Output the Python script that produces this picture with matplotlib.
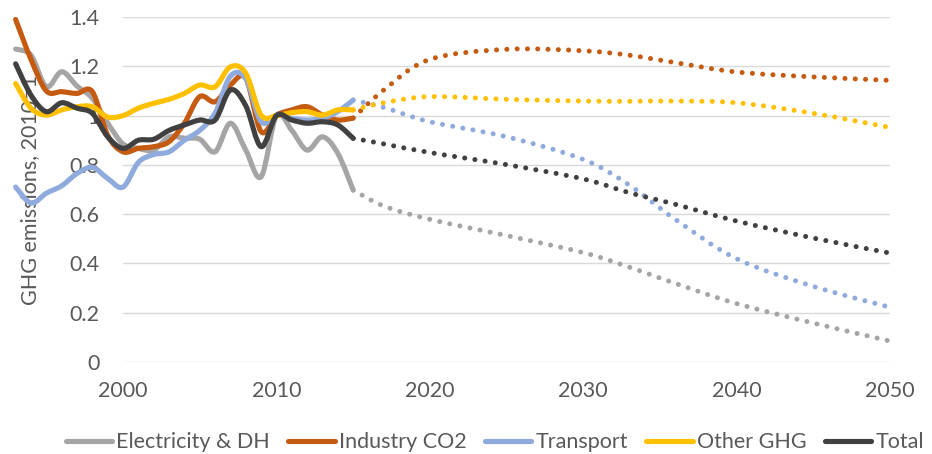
import numpy as np
import matplotlib
matplotlib.use("Agg")
import matplotlib.pyplot as plt
from matplotlib.path import Path
from matplotlib.patches import PathPatch
from matplotlib.lines import Line2D

plt.rcParams['font.family'] = ['Lato', 'DejaVu Sans']

# historical index values, 2010 = 1
hist_years = list(range(1993, 2016))
elec_hist = [1.27, 1.245, 1.117, 1.178, 1.12, 1.07, 0.97, 0.885, 0.867, 0.86, 0.914, 0.908,
             0.904, 0.853, 0.969, 0.86, 0.752, 1.0, 0.94, 0.86, 0.914, 0.847, 0.698]
ind_hist = [1.39, 1.228, 1.10, 1.097, 1.09, 1.097, 0.92, 0.853, 0.867, 0.874, 0.894, 0.969,
            1.077, 1.056, 1.124, 1.152, 0.935, 1.0, 1.023, 1.036, 1.002, 0.982, 0.99]
trans_hist = [0.71, 0.645, 0.685, 0.715, 0.765, 0.79, 0.745, 0.71, 0.81, 0.842, 0.853, 0.90,
              0.94, 1.01, 1.16, 1.15, 0.975, 1.0, 0.989, 0.982, 0.989, 1.016, 1.063]
other_hist = [1.13, 1.03, 1.002, 1.023, 1.036, 1.036, 0.994, 1.0, 1.03, 1.05, 1.066, 1.09,
              1.124, 1.117, 1.198, 1.172, 1.002, 1.0, 1.012, 1.016, 1.002, 1.023, 1.023]
total_hist = [1.21, 1.083, 1.016, 1.052, 1.03, 1.009, 0.914, 0.867, 0.90, 0.904, 0.94, 0.962,
              0.982, 0.982, 1.104, 1.04, 0.874, 1.0, 0.982, 0.969, 0.975, 0.962, 0.908]

# projections
proj_years = [2015, 2017, 2020, 2025, 2030, 2033, 2036, 2040, 2045, 2050]
elec_proj = [0.698, 0.633, 0.579, 0.513, 0.444, 0.385, 0.319, 0.237, 0.158, 0.085]
ind_proj = [0.99, 1.104, 1.228, 1.269, 1.263, 1.245, 1.215, 1.177, 1.157, 1.143]
trans_proj = [1.063, 1.033, 0.975, 0.914, 0.822, 0.718, 0.579, 0.419, 0.307, 0.222]
other_proj = [1.023, 1.052, 1.077, 1.066, 1.059, 1.058, 1.059, 1.052, 1.009, 0.952]
total_proj = [0.908, 0.885, 0.850, 0.801, 0.743, 0.687, 0.640, 0.572, 0.503, 0.442]

names = ["Electricity & DH", "Industry CO2", "Transport", "Other GHG", "Total"]
colors = ["#A5A5A5", "#C55A11", "#8FAADC", "#FFC000", "#404040"]
hist = [elec_hist, ind_hist, trans_hist, other_hist, total_hist]
proj = [elec_proj, ind_proj, trans_proj, other_proj, total_proj]


def smooth_path(xs, ys):
    # excel-like smoothed line as cubic bezier segments
    pts = np.column_stack([xs, ys]).astype(float)
    n = len(pts)
    verts = [pts[0]]
    codes = [Path.MOVETO]
    for i in range(n - 1):
        p0 = pts[i - 1] if i > 0 else pts[i]
        p1, p2 = pts[i], pts[i + 1]
        p3 = pts[i + 2] if i + 2 < n else pts[i + 1]
        verts += [p1 + (p2 - p0) / 6, p2 - (p3 - p1) / 6, p2]
        codes += [Path.CURVE4] * 3
    return Path(verts, codes)


fig = plt.figure(figsize=(9.32, 4.54), dpi=100)
ax = fig.add_axes([0.132, 0.2026, 0.823, 0.7599])

for ys, c in zip(proj, colors):
    ax.add_patch(PathPatch(smooth_path(proj_years, ys), fill=False, edgecolor=c, lw=3.6,
                           linestyle=(0, (0.01, 2.05)), capstyle='round', clip_on=False, zorder=2))
for ys, c in zip(hist, colors):
    ax.add_patch(PathPatch(smooth_path(hist_years, ys), fill=False, edgecolor=c, lw=3.7,
                           capstyle='round', joinstyle='round', clip_on=False, zorder=3))

fs = 15.5
ax.set_xlim(2000, 2050)
ax.set_ylim(0, 1.4)
ax.set_xticks(range(2000, 2051, 10))
ax.set_yticks([0, 0.2, 0.4, 0.6, 0.8, 1.0, 1.2, 1.4])
ax.set_yticklabels(["0", "0.2", "0.4", "0.6", "0.8", "1", "1.2", "1.4"])
ax.tick_params(axis='y', length=0, pad=17, labelsize=fs, labelcolor="#595959")
ax.tick_params(axis='x', length=0, pad=14, labelsize=fs, labelcolor="#595959")
for s in ax.spines.values():
    s.set_visible(False)
ax.grid(axis='y', color="#D9D9D9", lw=1.0)
ax.set_axisbelow(True)
ax.set_ylabel("GHG emissions, 2010=1", fontsize=fs, color="#595959")
ax.yaxis.set_label_coords(-0.108, 0.5)

handles = [Line2D([], [], color=c, lw=3.7, solid_capstyle='round') for c in colors]
fig.legend(handles, names, loc='center', bbox_to_anchor=(0.531, 0.026), ncol=5,
           frameon=False, fontsize=fs, labelcolor="#595959", handlelength=2.15,
           handletextpad=0.2, columnspacing=0.85)

fig.savefig("out.png", dpi=100)
